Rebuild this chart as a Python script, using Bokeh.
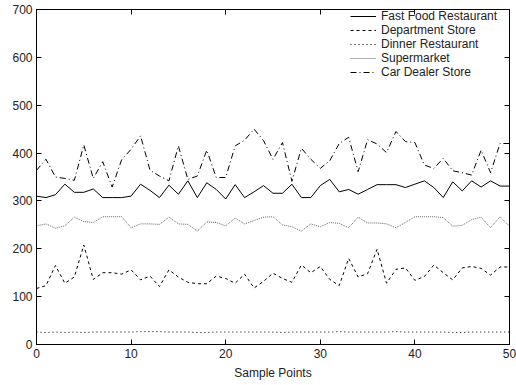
from bokeh.plotting import figure
from bokeh.models import LinearAxis, Range1d, FixedTicker, ColumnDataSource
from bokeh.embed import file_html
from bokeh.resources import INLINE

sample_points = list(range(51))

fast_food = [310, 307, 313, 335, 318, 318, 325, 307, 307, 307, 310, 335, 322, 307, 333, 314, 342,
             307, 338, 324, 304, 334, 307, 319, 332, 316, 316, 335, 307, 307, 332, 345, 319, 324,
             314, 324, 334, 334, 334, 328, 335, 342, 328, 307, 340, 321, 342, 329, 342, 331, 331]
department = [117, 123, 165, 128, 141, 208, 136, 150, 150, 147, 156, 135, 143, 121, 156, 141, 130,
              127, 127, 143, 138, 128, 147, 118, 132, 149, 138, 130, 166, 150, 163, 136, 123, 180,
              141, 148, 199, 128, 157, 160, 134, 142, 166, 150, 135, 160, 163, 159, 145, 162, 162]
dinner = [26, 25, 26, 25, 26, 25, 26, 26, 26, 26, 26, 27, 27, 27, 26, 26, 26, 25, 25, 26, 26, 26,
          26, 26, 26, 26, 25, 26, 26, 26, 26, 26, 27, 26, 26, 26, 26, 26, 27, 26, 26, 26, 26, 26,
          25, 25, 26, 26, 26, 26, 26]
supermarket = [248, 252, 243, 248, 266, 257, 255, 267, 267, 267, 244, 252, 252, 251, 266, 252, 251,
               237, 256, 255, 248, 264, 252, 259, 266, 267, 250, 246, 237, 252, 246, 255, 253, 244,
               266, 254, 254, 252, 244, 255, 267, 267, 267, 265, 247, 249, 261, 266, 244, 267, 247]
car_dealer = [364, 387, 350, 347, 343, 417, 347, 382, 329, 386, 408, 436, 364, 352, 342, 415, 345,
              352, 406, 349, 349, 415, 427, 450, 426, 387, 422, 341, 410, 387, 368, 384, 420, 433,
              361, 428, 419, 401, 445, 424, 422, 375, 368, 389, 363, 359, 354, 406, 359, 420, 420]

series_names = ["Fast Food Restaurant", "Department Store", "Dinner Restaurant",
                "Supermarket", "Car Dealer Store"]
x_ticks = [0, 10, 20, 30, 40, 50]
y_ticks = [0, 100, 200, 300, 400, 500, 600, 700]

FONT = "Liberation Sans"
FS = "12px"
TXT = "#222222"

src = ColumnDataSource(dict(x=sample_points, ff=fast_food, ds=department, dr=dinner,
                            sm=supermarket, cd=car_dealer))

p = figure(width=516, height=382, x_range=Range1d(0, 50), y_range=Range1d(0, 700),
           output_backend="svg", toolbar_location=None,
           min_border_left=36, min_border_right=7, min_border_top=9, min_border_bottom=0)

styles = [("ff", "#000000", "solid", 1.0),
          ("ds", "#000000", "3 3", 1.0),
          ("dr", "#000000", "1 3", 1.0),
          ("sm", "#666666", "1 1", 1.0),
          ("cd", "#000000", "6 3 1 3", 1.0)]
for (col, color, dash, w), name in zip(styles, series_names):
    p.line("x", col, source=src, line_color=color, line_dash=dash, line_width=w,
           legend_label=name)

p.grid.visible = False
p.outline_line_color = "black"
p.outline_line_width = 1
p.background_fill_color = "white"
p.border_fill_color = "white"

for ax, ticks in ((p.xaxis[0], x_ticks), (p.yaxis[0], y_ticks)):
    ax.ticker = FixedTicker(ticks=ticks)
    ax.major_tick_in = 5
    ax.major_tick_out = 0
    ax.minor_tick_line_color = None
    ax.axis_line_color = "black"
    ax.major_tick_line_color = "black"
    ax.major_label_text_font = FONT
    ax.major_label_text_font_size = FS
    ax.major_label_text_color = TXT
    ax.major_label_standoff = 4

p.xaxis.axis_label = "Sample Points"
p.xaxis.axis_label_text_font = FONT
p.xaxis.axis_label_text_font_size = FS
p.xaxis.axis_label_text_font_style = "normal"
p.xaxis.axis_label_text_color = TXT
p.xaxis.axis_label_standoff = 5

top = LinearAxis(ticker=FixedTicker(ticks=x_ticks), major_tick_in=5, major_tick_out=0,
                 minor_tick_line_color=None, major_label_text_color=None,
                 major_label_text_font_size="1px", major_label_standoff=0,
                 axis_line_color="black")
right = LinearAxis(ticker=FixedTicker(ticks=y_ticks), major_tick_in=5, major_tick_out=0,
                   minor_tick_line_color=None, major_label_text_color=None,
                   major_label_text_font_size="1px", major_label_standoff=0,
                   axis_line_color="black")
p.add_layout(top, "above")
p.add_layout(right, "right")

lg = p.legend[0]
lg.location = "top_right"
lg.border_line_color = None
lg.background_fill_alpha = 0
lg.label_text_font = FONT
lg.label_text_font_size = FS
lg.label_text_color = TXT
lg.label_height = 12
lg.label_width = 128
lg.glyph_height = 12
lg.glyph_width = 26
lg.spacing = -4
lg.padding = 6
lg.margin = 0
lg.label_text_line_height = 1.0

open("out.html", "w").write(file_html(p, INLINE))
